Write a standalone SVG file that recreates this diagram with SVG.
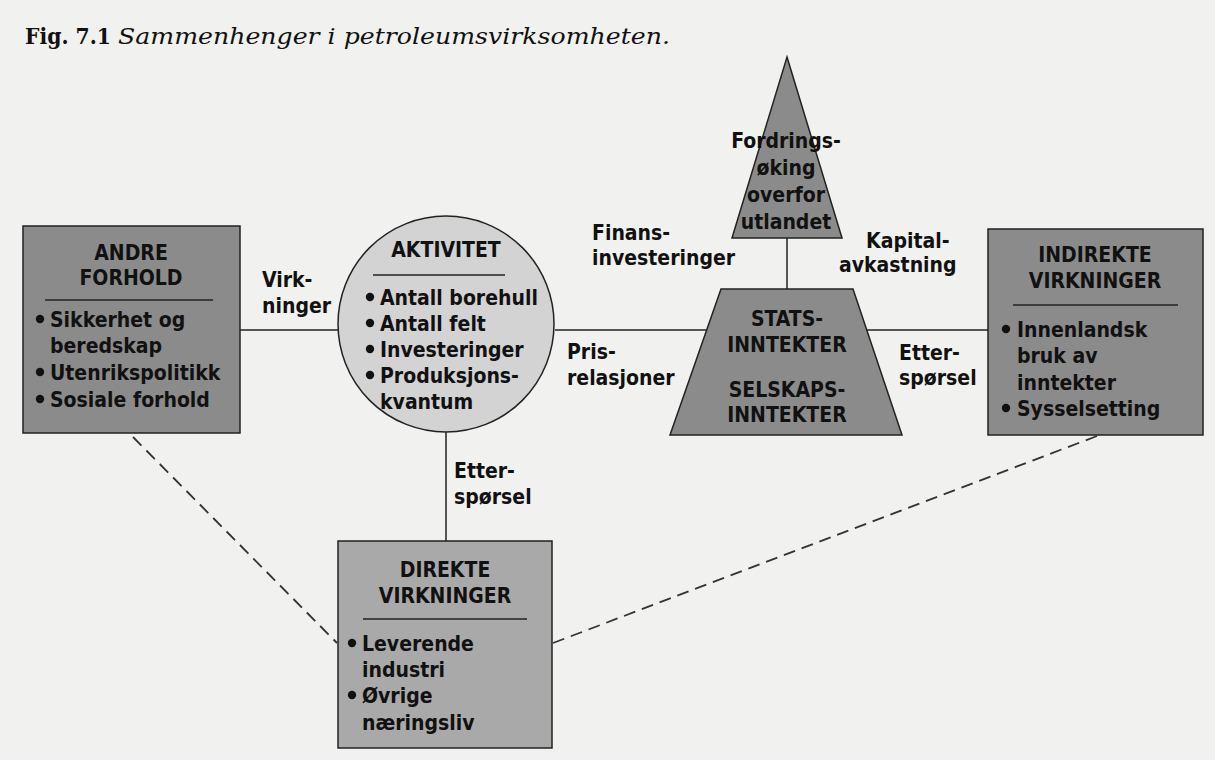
<svg xmlns="http://www.w3.org/2000/svg" width="1215" height="760" viewBox="0 0 1215 760">
<style>
.t{font-family:"DejaVu Sans Condensed","DejaVu Sans",sans-serif;font-stretch:condensed;font-weight:bold;font-size:21px;fill:#111}
.c{text-anchor:middle}
.bul{fill:#111}
.shape{stroke:#222;stroke-width:1.5}
.dark{fill:#8b8b8b}
.mid{fill:#a9a9a9}
.light{fill:#d3d3d3}
.rule{stroke:#222;stroke-width:1.5}
.conn line{stroke:#222;stroke-width:1.5}
.conn line.dash{stroke-dasharray:12 7;stroke-width:1.8;stroke:#333}
.title{font-family:"DejaVu Serif",serif;font-size:22px;fill:#111}
</style>
<defs>
<circle id="dot" r="4.2"/>
</defs>
<rect width="1215" height="760" fill="#f1f1ef"/>
<g id="title">
<text class="title" x="25" y="44" font-weight="bold" textLength="86" lengthAdjust="spacingAndGlyphs">Fig. 7.1</text>
<text class="title" x="118" y="44" font-style="italic" textLength="552" lengthAdjust="spacingAndGlyphs">Sammenhenger i petroleumsvirksomheten.</text>
</g>
<g id="connectors" class="conn">
<line x1="240" y1="330" x2="338" y2="330"/>
<line x1="555" y1="330" x2="707" y2="330"/>
<line x1="867" y1="330" x2="988" y2="330"/>
<line x1="787" y1="238" x2="787" y2="289"/>
<line x1="446" y1="432" x2="446" y2="541"/>
<line class="dash" x1="133" y1="437" x2="337" y2="643"/>
<line class="dash" x1="553" y1="643" x2="1097" y2="436"/>
</g>
<g id="labels" class="t">
<text x="262" y="287">Virk-</text>
<text x="262" y="313">ninger</text>
<text x="454" y="478">Etter-</text>
<text x="454" y="504">spørsel</text>
<text x="567" y="359">Pris-</text>
<text x="567" y="385">relasjoner</text>
<text x="592" y="240">Finans-</text>
<text x="592" y="265">investeringer</text>
<text x="866" y="248">Kapital-</text>
<text x="839" y="272">avkastning</text>
<text x="899" y="360">Etter-</text>
<text x="899" y="385">spørsel</text>
</g>
<g id="andre-forhold">
<rect class="shape dark" x="23" y="226" width="217" height="207"/>
<line class="rule" x1="45" y1="300" x2="213" y2="300"/>
<text class="t c" x="131" y="260">ANDRE</text>
<text class="t c" x="131" y="285">FORHOLD</text>
<g class="bul"><use href="#dot" x="40" y="319"/><use href="#dot" x="40" y="372"/><use href="#dot" x="40" y="399"/></g>
<text class="t" x="50" y="327">Sikkerhet og</text>
<text class="t" x="50" y="353">beredskap</text>
<text class="t" x="50" y="380">Utenrikspolitikk</text>
<text class="t" x="50" y="407">Sosiale forhold</text>
</g>
<g id="aktivitet">
<circle class="shape light" cx="446" cy="324" r="108"/>
<line class="rule" x1="373" y1="275" x2="505" y2="275"/>
<text class="t c" x="446" y="257">AKTIVITET</text>
<g class="bul"><use href="#dot" x="370" y="297"/><use href="#dot" x="370" y="323"/><use href="#dot" x="370" y="349"/><use href="#dot" x="370" y="375"/></g>
<text class="t" x="380" y="305">Antall borehull</text>
<text class="t" x="380" y="331">Antall felt</text>
<text class="t" x="380" y="357">Investeringer</text>
<text class="t" x="380" y="383">Produksjons-</text>
<text class="t" x="380" y="409">kvantum</text>
</g>
<g id="fordringsoking">
<polygon class="shape dark" points="787,57 842,238 732,238"/>
<text class="t c" x="786" y="148">Fordrings-</text>
<text class="t c" x="786" y="175">øking</text>
<text class="t c" x="786" y="202">overfor</text>
<text class="t c" x="786" y="229">utlandet</text>
</g>
<g id="inntekter">
<polygon class="shape dark" points="721,289 853,289 902,435 670,435"/>
<text class="t c" x="787" y="326">STATS-</text>
<text class="t c" x="787" y="352">INNTEKTER</text>
<text class="t c" x="787" y="397">SELSKAPS-</text>
<text class="t c" x="787" y="422">INNTEKTER</text>
</g>
<g id="indirekte-virkninger">
<rect class="shape dark" x="988" y="229" width="215" height="206"/>
<line class="rule" x1="1013" y1="305" x2="1178" y2="305"/>
<text class="t c" x="1095" y="262">INDIREKTE</text>
<text class="t c" x="1095" y="288">VIRKNINGER</text>
<g class="bul"><use href="#dot" x="1006" y="329"/><use href="#dot" x="1006" y="408"/></g>
<text class="t" x="1017" y="337">Innenlandsk</text>
<text class="t" x="1017" y="363">bruk av</text>
<text class="t" x="1017" y="390">inntekter</text>
<text class="t" x="1017" y="416">Sysselsetting</text>
</g>
<g id="direkte-virkninger">
<rect class="shape mid" x="338" y="541" width="214" height="207"/>
<line class="rule" x1="363" y1="619" x2="527" y2="619"/>
<text class="t c" x="445" y="577">DIREKTE</text>
<text class="t c" x="445" y="603">VIRKNINGER</text>
<g class="bul"><use href="#dot" x="352" y="643"/><use href="#dot" x="352" y="695"/></g>
<text class="t" x="362" y="651">Leverende</text>
<text class="t" x="362" y="677">industri</text>
<text class="t" x="362" y="703">Øvrige</text>
<text class="t" x="362" y="730">næringsliv</text>
</g>
</svg>
